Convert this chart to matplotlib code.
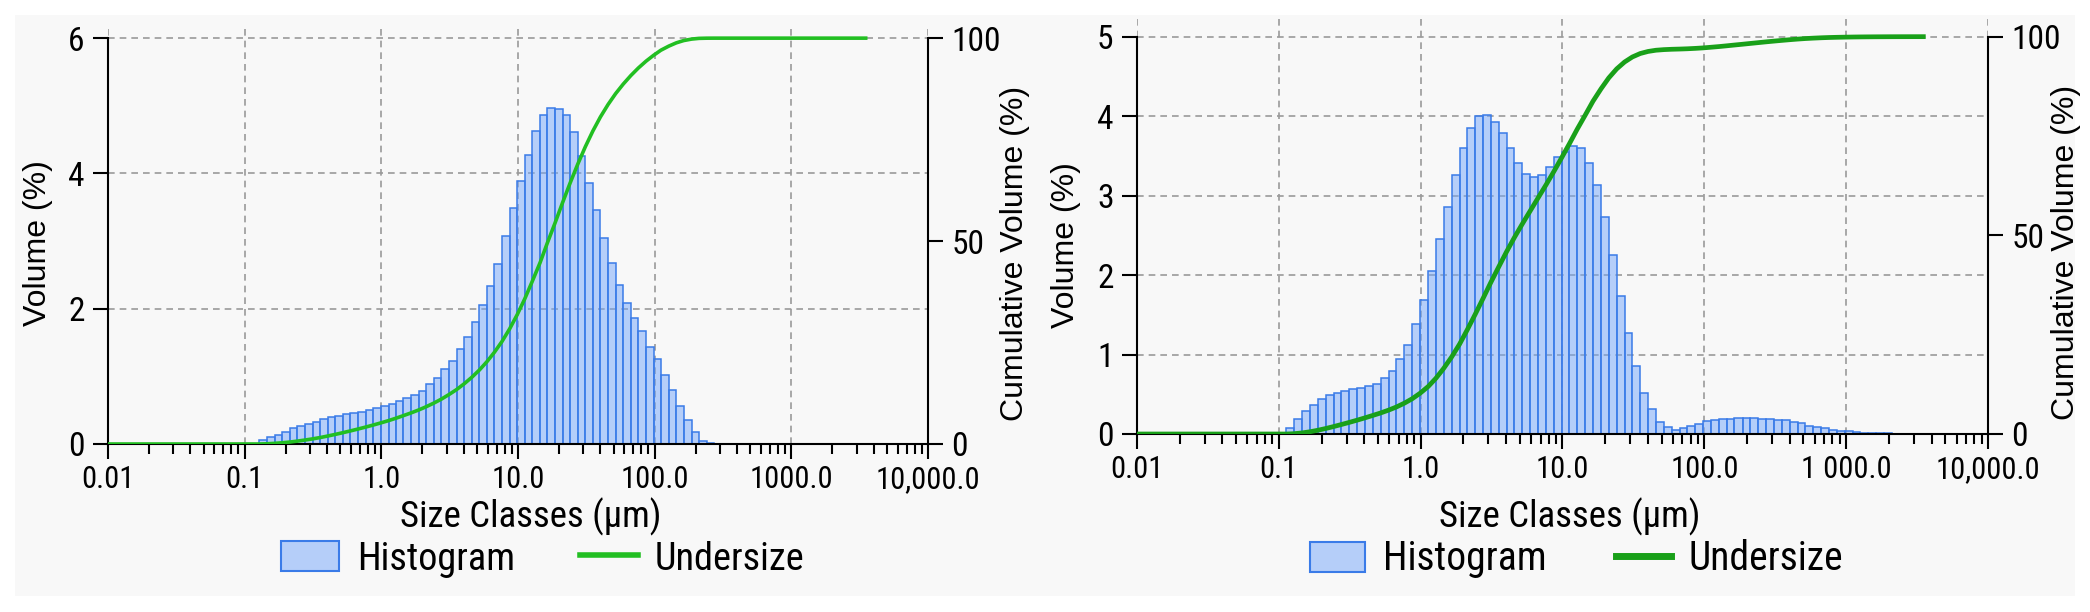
import numpy as np
import matplotlib
matplotlib.use('Agg')
import matplotlib.pyplot as plt
from matplotlib import font_manager as fm
from matplotlib.patches import Patch, Rectangle
from matplotlib.lines import Line2D
from matplotlib.ticker import LogLocator, NullFormatter

# Mastersizer size class edges (um), 100 classes
size_edges = [0.0100, 0.0114, 0.0129, 0.0147, 0.0167, 0.0189, 0.0215, 0.0244, 0.0278, 0.0315,
              0.0358, 0.0407, 0.0463, 0.0526, 0.0597, 0.0679, 0.0771, 0.0876, 0.0995, 0.113,
              0.128, 0.146, 0.166, 0.188, 0.214, 0.243, 0.276, 0.314, 0.357, 0.405,
              0.460, 0.523, 0.594, 0.675, 0.767, 0.872, 0.991, 1.13, 1.28, 1.45,
              1.65, 1.88, 2.13, 2.42, 2.75, 3.12, 3.55, 4.03, 4.58, 5.21,
              5.92, 6.72, 7.64, 8.68, 9.86, 11.2, 12.7, 14.5, 16.4, 18.7,
              21.2, 24.1, 27.4, 31.1, 35.3, 40.1, 45.6, 51.8, 58.9, 66.9,
              76.0, 86.4, 98.1, 111, 127, 144, 163, 186, 211, 240,
              272, 310, 352, 400, 454, 516, 586, 666, 756, 859,
              976, 1110, 1260, 1430, 1630, 1850, 2100, 2390, 2710, 3080,
              3500]

# volume % per class, left sample
vol_left = [0, 0, 0, 0, 0, 0, 0, 0, 0, 0,
            0, 0, 0, 0, 0, 0, 0, 0, 0, 0,
            0.06, 0.10, 0.14, 0.18, 0.23, 0.26, 0.29, 0.33, 0.37, 0.40,
            0.42, 0.44, 0.46, 0.48, 0.50, 0.53, 0.56, 0.595, 0.63, 0.675,
            0.73, 0.79, 0.885, 0.98, 1.11, 1.23, 1.41, 1.585, 1.80, 2.055,
            2.335, 2.66, 3.075, 3.485, 3.895, 4.275, 4.625, 4.87, 4.97, 4.95,
            4.865, 4.615, 4.255, 3.865, 3.46, 3.05, 2.68, 2.35, 2.085, 1.87,
            1.665, 1.44, 1.26, 1.02, 0.795, 0.56, 0.36, 0.18, 0.045, 0.01,
            0, 0, 0, 0, 0, 0, 0, 0, 0, 0,
            0, 0, 0, 0, 0, 0, 0, 0, 0, 0]

# volume % per class, right sample
vol_right = [0, 0, 0, 0, 0, 0, 0, 0, 0, 0,
             0, 0, 0, 0, 0, 0, 0, 0, 0, 0.08,
             0.195, 0.29, 0.37, 0.445, 0.485, 0.515, 0.54, 0.56, 0.58, 0.605,
             0.63, 0.70, 0.795, 0.95, 1.12, 1.38, 1.69, 2.055, 2.45, 2.86,
             3.26, 3.605, 3.85, 4.00, 4.02, 3.93, 3.79, 3.605, 3.41, 3.27,
             3.23, 3.26, 3.36, 3.49, 3.55, 3.63, 3.60, 3.41, 3.13, 2.735,
             2.255, 1.735, 1.265, 0.86, 0.52, 0.31, 0.15, 0.09, 0.055, 0.07,
             0.10, 0.12, 0.16, 0.175, 0.19, 0.195, 0.20, 0.20, 0.20, 0.195,
             0.19, 0.18, 0.17, 0.155, 0.135, 0.105, 0.09, 0.07, 0.05, 0.04,
             0.033, 0.025, 0.017, 0.013, 0.01, 0.008, 0.006, 0.004, 0.003, 0.002]

xtick_vals = [0.01, 0.1, 1, 10, 100, 1000, 10000]
xtick_left = ['0.01', '0.1', '1.0', '10.0', '100.0', '1000.0', '10,000.0']
xtick_right = ['0.01', '0.1', '1.0', '10.0', '100.0', '1 000.0', '10,000.0']
yticks_left = [0, 2, 4, 6]
yticks_right = [0, 1, 2, 3, 4, 5]
cum_ticks = [0, 50, 100]

W, H = 2090, 612
REG = ['Liberation Sans', 'DejaVu Sans']
plt.rcParams['font.family'] = REG


def have_font(name):
    try:
        fm.findfont(fm.FontProperties(family=name), fallback_to_default=False)
        return True
    except ValueError:
        return False


# condensed face if one is installed, otherwise plain Liberation Sans a bit smaller
narrow = [f for f in ['Liberation Sans Narrow', 'Roboto Condensed', 'Open Sans Condensed',
                      'DejaVu Sans Condensed'] if have_font(f)]
if narrow:
    NARROW = [narrow[0]] + REG
    fs_tick, fs_xlab, fs_legL, fs_legR = 22, 26.5, 27.5, 28.5
else:
    NARROW = REG
    fs_tick, fs_xlab, fs_legL, fs_legR = 20, 24, 24, 25

fig = plt.figure(figsize=(W / 100, H / 100), dpi=100)
fig.patch.set_facecolor('white')
for x0, x1 in [(15, 1040), (1040, 2075)]:
    fig.patches.append(Rectangle((x0 / W, 1 - 596 / H), (x1 - x0) / W, (596 - 15) / H,
                                 transform=fig.transFigure, facecolor='#f8f8f8',
                                 edgecolor='none', zorder=-10))


def panel(rect, vols, yticks, ytop, xlabels, green, lw):
    ax = fig.add_axes([rect[0] / W, 1 - rect[3] / H, (rect[2] - rect[0]) / W, (rect[3] - rect[1]) / H])
    ax.set_facecolor('none')
    edges = np.array(size_edges)
    ax.bar(edges[:-1], vols, width=np.diff(edges), align='edge',
           facecolor=(0.45, 0.65, 0.98, 0.5), edgecolor='#3a7be8', linewidth=1.1, zorder=2)
    ax.set_xscale('log')
    ax.set_xlim(0.01, 10000)
    ax.set_ylim(0, ytop)
    ax.set_axisbelow(True)
    ax.grid(True, which='major', color='#9a9a9a', linestyle=(0, (4, 3)), linewidth=1.2)
    ax.set_xticks(xtick_vals)
    ax.set_xticklabels(xlabels, fontfamily=NARROW, fontsize=fs_tick)
    ax.xaxis.set_minor_locator(LogLocator(base=10, subs=range(2, 10), numticks=20))
    ax.xaxis.set_minor_formatter(NullFormatter())
    ax.set_yticks(yticks)
    ax.set_yticklabels([str(t) for t in yticks], fontfamily=NARROW, fontsize=fs_tick + 2)
    ax.tick_params(axis='x', which='major', direction='out', length=11, width=1.5, pad=4)
    ax.tick_params(axis='x', which='minor', direction='out', length=7, width=1.5)
    ax.tick_params(axis='y', direction='out', length=11, width=1.5, pad=6)
    ax.spines['top'].set_visible(False)
    ax.spines['right'].set_visible(False)
    ax.spines['left'].set_bounds(0, yticks[-1])
    for s in ['left', 'bottom']:
        ax.spines[s].set_linewidth(1.5)

    ax2 = ax.twinx()
    cum = np.cumsum(vols)
    cum = cum / cum[-1] * 100
    ax2.plot(edges, np.concatenate([[0], cum]), color=green, linewidth=lw, zorder=3)
    ax2.set_ylim(0, 100 * ytop / yticks[-1])
    ax2.set_yticks(cum_ticks)
    ax2.set_yticklabels([str(t) for t in cum_ticks], fontfamily=NARROW, fontsize=fs_tick + 2)
    ax2.tick_params(axis='y', direction='out', length=11, width=1.5, pad=6)
    for s in ['left', 'top', 'bottom']:
        ax2.spines[s].set_visible(False)
    ax2.spines['right'].set_bounds(0, 100)
    ax2.spines['right'].set_linewidth(1.5)
    return ax


def ftext(x, y, s, **kw):
    fig.text(x / W, 1 - y / H, s, ha='center', va='center', **kw)


# left panel
panel((108, 28, 928, 444), vol_left, yticks_left, 6.15, xtick_left, '#22bf22', 2.6)
ftext(38, 243, 'Volume (%)', rotation=90, fontsize=23)
ftext(1015, 253, 'Cumulative Volume (%)', rotation=90, fontsize=23)
ftext(531, 517, 'Size Classes (\u00b5m)', fontfamily=NARROW, fontsize=fs_xlab)
fig.legend([Patch(facecolor=(0.45, 0.65, 0.98, 0.5), edgecolor='#3a7be8', linewidth=1.5),
            Line2D([0], [0], color='#22bf22', linewidth=4)],
           ['Histogram', 'Undersize'], loc='center', bbox_to_anchor=(543 / W, 1 - 559 / H),
           ncol=2, frameon=False, prop={'family': NARROW, 'size': fs_legL},
           handlelength=58 / (fs_legL * 1.389), handleheight=32 / (fs_legL * 1.389),
           handletextpad=0.45, columnspacing=1.7)

# right panel
panel((1137, 16, 1988, 434), vol_right, yticks_right, 5.26, xtick_right, '#19a019', 3.4)
ftext(1066, 245, 'Volume (%)', rotation=90, fontsize=23)
ftext(2066, 252, 'Cumulative Volume (%)', rotation=90, fontsize=23)
ftext(1570, 517, 'Size Classes (\u00b5m)', fontfamily=NARROW, fontsize=fs_xlab)
fig.legend([Patch(facecolor=(0.45, 0.65, 0.98, 0.5), edgecolor='#3a7be8', linewidth=1.5),
            Line2D([0], [0], color='#19a019', linewidth=5)],
           ['Histogram', 'Undersize'], loc='center', bbox_to_anchor=(1577 / W, 1 - 559 / H),
           ncol=2, frameon=False, prop={'family': NARROW, 'size': fs_legR},
           handlelength=55 / (fs_legR * 1.389), handleheight=31 / (fs_legR * 1.389),
           handletextpad=0.45, columnspacing=1.75)

fig.savefig('out.png', dpi=100)
